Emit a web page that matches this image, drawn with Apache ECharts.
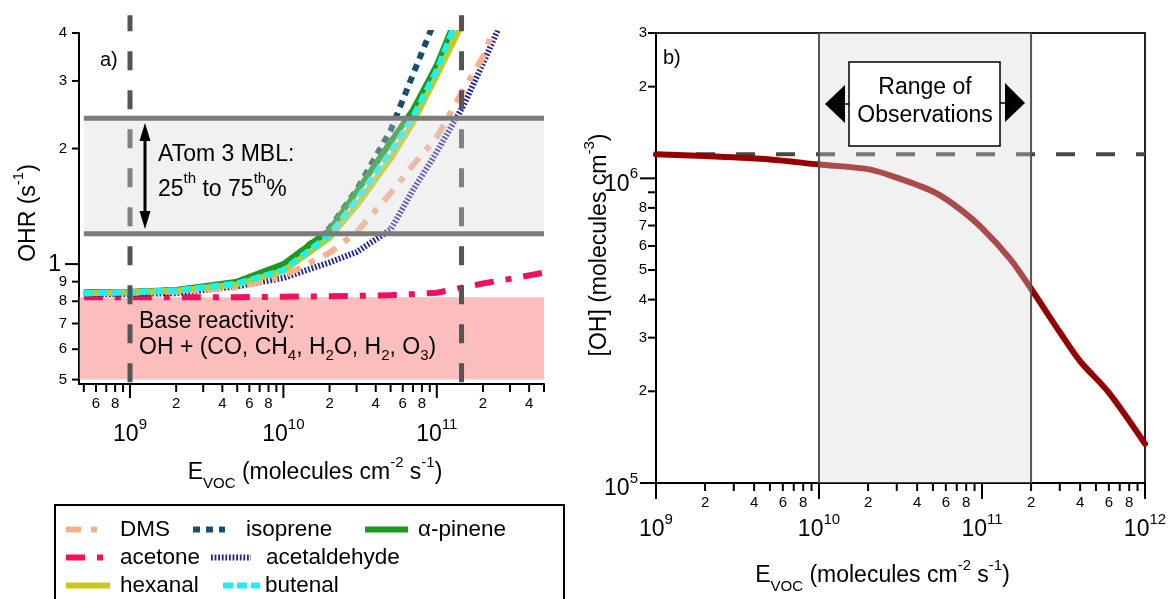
<!DOCTYPE html>
<html>
<head>
<meta charset="utf-8">
<title>OHR and OH versus E_VOC</title>
<script src="https://cdn.jsdelivr.net/npm/echarts@6.0.0/dist/echarts.min.js"></script>
<style>
html, body { margin: 0; padding: 0; background: #fff; }
#main { width: 1172px; height: 599px; }
</style>
</head>
<body>
<div id="main"></div>
<script type="text/javascript">
// ---- panel a: OH reactivity (s-1) against VOC flux ----
var evocA = [5e8, 1e9, 2e9, 5e9, 1e10, 2e10, 3e10, 5e10, 7e10, 1e11, 1.5e11, 2e11, 3e11, 5e11];
var ohrAcetone      = [0.82, 0.82, 0.82, 0.82, 0.822, 0.824, 0.826, 0.83, 0.835, 0.842, 0.87, 0.89, 0.915, 0.95];
var ohrAcetaldehyde = [0.835, 0.836, 0.84, 0.875, 0.92, 1.01, 1.075, 1.23, 1.56, 1.96, 2.6, 3.33, 4.8, null];
var ohrDMS          = [0.84, 0.842, 0.848, 0.87, 0.93, 1.07, 1.21, 1.53, 1.81, 2.14, 2.86, 3.46, 5.28, null];
var ohrIsoprene     = [0.84, 0.845, 0.855, 0.895, 0.99, 1.24, 1.56, 2.23, 3.12, 4.44, null, null, null, null];
var ohrAlphaPinene  = [0.845, 0.847, 0.856, 0.90, 1.0, 1.225, 1.54, 2.08, 2.52, 3.3, 4.89, null, null, null];
var ohrHexanal      = [0.84, 0.845, 0.852, 0.885, 0.96, 1.17, 1.42, 1.88, 2.34, 3.1, 4.31, null, null, null];
var ohrButenal      = [0.84, 0.845, 0.853, 0.89, 0.965, 1.19, 1.47, 1.96, 2.42, 3.2, 4.8, null, null, null];
var mblRange = [1.2, 2.4];          // ATom 3 MBL 25th-75th percentile
var baseReactivity = [0.5, 0.82];   // OH + (CO, CH4, H2O, H2, O3)
var fluxMarksA = [1e9, 1.45e11];

// ---- panel b: [OH] against VOC flux ----
var evocB = [1e9, 2e9, 5e9, 1e10, 2e10, 3e10, 5e10, 7e10, 1e11, 1.5e11, 2e11, 3e11, 4e11, 6e11, 1e12];
var ohConc = [1.2e6, 1.183e6, 1.153e6, 1.11e6, 1.072e6, 1.005e6, 9.05e5, 8.07e5, 6.87e5, 5.41e5, 4.34e5, 3.13e5, 2.51e5, 1.98e5, 1.345e5];
var ohNoVoc = 1.2e6;
var obsRange = [1e10, 2e11];

// ---- tick values ----
var tickAxMajor = [1e9, 1e10, 1e11];
var tickAxMinor = [5e8, 6e8, 7e8, 8e8, 9e8, 2e9, 3e9, 4e9, 5e9, 6e9, 7e9, 8e9, 9e9,
                   2e10, 3e10, 4e10, 5e10, 6e10, 7e10, 8e10, 9e10, 2e11, 3e11, 4e11, 5e11];
var tickAyMajor = [1];
var tickAyMinor = [0.5, 0.6, 0.7, 0.8, 0.9, 2, 3, 4];
var tickBxMajor = [1e9, 1e10, 1e11, 1e12];
var tickBxMinor = [2e9, 3e9, 4e9, 5e9, 6e9, 7e9, 8e9, 9e9, 2e10, 3e10, 4e10, 5e10, 6e10, 7e10, 8e10, 9e10,
                   2e11, 3e11, 4e11, 5e11, 6e11, 7e11, 8e11, 9e11];
var tickByMajor = [1e5, 1e6];
var tickByMinor = [2e5, 3e5, 4e5, 5e5, 6e5, 7e5, 8e5, 9e5, 2e6, 3e6];
var xLabelledMantissa = [2, 4, 6, 8];
var byUnlabelled = [9e5];

var FONT = '"Liberation Sans", Arial, sans-serif';
var supRich = {
    sup: { fontSize: 15, lineHeight: 15, verticalAlign: 'top', fontFamily: FONT, fill: '#000', color: '#000' },
    sub: { fontSize: 15, lineHeight: 15, verticalAlign: 'bottom', fontFamily: FONT, fill: '#000', color: '#000' }
};

function mant(v) {
    return Math.round(v / Math.pow(10, Math.floor(Math.log10(v) + 1e-9)));
}
function expo(v) {
    return Math.round(Math.log10(v));
}

var curveStyles = [
    { name: 'acetone', data: ohrAcetone, color: '#f2105e', width: 6, type: [19, 12, 6, 12] },
    { name: 'acetaldehyde', data: ohrAcetaldehyde, color: '#24249a', width: 6, type: [1.8, 1.8] },
    { name: 'DMS', data: ohrDMS, color: '#f5b18e', width: 6, type: [15, 10, 6, 10] },
    { name: 'isoprene', data: ohrIsoprene, color: '#17506e', width: 6, type: [7, 6] },
    { name: 'α-pinene', data: ohrAlphaPinene, color: '#1b9a1b', width: 6, type: 'solid' },
    { name: 'hexanal', data: ohrHexanal, color: '#c9c91c', width: 6, type: 'solid' },
    { name: 'butenal', data: ohrButenal, color: '#1ef0f0', width: 6, type: [10, 4] }
];

var series = [];

// filled rectangles [x0, y0, x1, y1]
function rectSeries(xi, yi, rects, fill, z) {
    return {
        type: 'custom', xAxisIndex: xi, yAxisIndex: yi, silent: true, z: z, clip: false,
        data: rects,
        renderItem: function (params, api) {
            var p0 = api.coord([api.value(0), api.value(1)]);
            var p1 = api.coord([api.value(2), api.value(3)]);
            return {
                type: 'rect',
                shape: { x: Math.min(p0[0], p1[0]), y: Math.min(p0[1], p1[1]),
                         width: Math.abs(p1[0] - p0[0]), height: Math.abs(p1[1] - p0[1]) },
                style: { fill: fill }
            };
        }
    };
}
// straight segments [x0, y0, x1, y1]
function segSeries(xi, yi, segs, stroke, width, dash, z) {
    return {
        type: 'custom', xAxisIndex: xi, yAxisIndex: yi, silent: true, z: z, clip: false,
        data: segs,
        renderItem: function (params, api) {
            var p0 = api.coord([api.value(0), api.value(1)]);
            var p1 = api.coord([api.value(2), api.value(3)]);
            return {
                type: 'line',
                shape: { x1: p0[0], y1: p0[1], x2: p1[0], y2: p1[1] },
                style: { stroke: stroke, lineWidth: width, lineDash: dash || null }
            };
        }
    };
}
// axis ticks: list of [value, label, isMajor]
function tickSeries(xi, yi, ticks, o) {
    return {
        type: 'custom', xAxisIndex: xi, yAxisIndex: yi, silent: true, z: 8, clip: false,
        data: ticks.map(function (t) { return o.dir === 'x' ? [t[0], o.base] : [o.base, t[0]]; }),
        renderItem: function (params, api) {
            var t = ticks[params.dataIndex];
            var p = api.coord([api.value(0), api.value(1)]);
            var len = t[2] ? o.majorLen : o.minorLen;
            var kids = [];
            if (o.dir === 'x') {
                kids.push({ type: 'line', shape: { x1: p[0], y1: p[1], x2: p[0], y2: p[1] + len },
                            style: { stroke: '#000', lineWidth: 2 } });
            } else {
                kids.push({ type: 'line', shape: { x1: p[0] - len, y1: p[1], x2: p[0], y2: p[1] },
                            style: { stroke: '#000', lineWidth: 2 } });
            }
            if (t[1]) {
                var st = { text: t[1], fill: '#000', fontFamily: FONT, fontSize: t[2] ? 23 : 15,
                           lineHeight: 36, rich: supRich, verticalAlign: 'middle' };
                if (o.dir === 'x') {
                    st.align = 'center';
                    st.x = p[0];
                    st.y = p[1] + (t[2] ? o.majorOff : o.minorOff);
                } else {
                    st.align = 'right';
                    st.x = p[0] - (t[2] ? o.majorOff : o.minorOff);
                    st.y = p[1] + (t[2] ? o.majorShift : 0);
                }
                kids.push({ type: 'text', style: st });
            }
            return { type: 'group', children: kids };
        }
    };
}

// ---- panel a layers ----
series.push(rectSeries(0, 0, [[4.7e8, baseReactivity[0], 5e11, baseReactivity[1]]], '#fcbdbd', 1));
curveStyles.forEach(function (c, k) {
    var pts = [];
    evocA.forEach(function (e, i) { if (c.data[i] != null) pts.push([e, c.data[i]]); });
    series.push({
        name: c.name, type: 'line', xAxisIndex: 0, yAxisIndex: 0, data: pts,
        symbol: 'none', z: 3 + k * 0.01, silent: true,
        lineStyle: { color: c.color, width: c.width, type: c.type, cap: 'butt', join: 'round' },
        itemStyle: { color: c.color }
    });
});
series.push(segSeries(0, 0, fluxMarksA.map(function (x) { return [x, 0.492, x, 4.45]; }),
    '#555', 5, [19, 20], 4));
series.push(rectSeries(0, 0, [[5e8, mblRange[0], 5e11, mblRange[1]]], 'rgba(215,215,215,0.34)', 5));
series.push(segSeries(0, 0, mblRange.map(function (y) { return [5e8, y, 5e11, y]; }), '#7b7b7b', 5, null, 6));

// ---- panel b layers ----
series.push(segSeries(1, 1, [[1e9, ohNoVoc, 1e12, ohNoVoc]], '#474747', 4, [19, 21], 2));
series.push({
    name: '[OH]', type: 'line', xAxisIndex: 1, yAxisIndex: 1, symbol: 'none', z: 3, silent: true,
    smooth: 0.3,
    data: evocB.map(function (e, i) { return [e, ohConc[i]]; }),
    lineStyle: { color: '#960000', width: 6, cap: 'round' }
});
series.push(rectSeries(1, 1, [[obsRange[0], 1e5, obsRange[1], 3e6]], 'rgba(215,215,215,0.34)', 5));
series.push(segSeries(1, 1, obsRange.map(function (x) { return [x, 1e5, x, 3e6]; }), '#555', 2, null, 6));

// ---- ticks ----
function buildTicks(major, minor, majorLabel, minorLabel) {
    var out = [];
    major.forEach(function (v) { out.push([v, majorLabel(v), true]); });
    minor.forEach(function (v) { out.push([v, minorLabel(v), false]); });
    return out;
}
var sci = function (v) { return '10{sup|' + expo(v) + '}'; };
var evenOnly = function (v) { return xLabelledMantissa.indexOf(mant(v)) >= 0 ? String(mant(v)) : ''; };

series.push(tickSeries(0, 0, buildTicks(tickAxMajor, tickAxMinor, sci, evenOnly),
    { dir: 'x', base: 0.487, majorLen: 14, minorLen: 8, majorOff: 51, minorOff: 20 }));
series.push(tickSeries(0, 0, buildTicks(tickAyMajor, tickAyMinor, function () { return '1'; },
    function (v) { return String(mant(v)); }),
    { dir: 'y', base: 4.65e8, majorLen: 14, minorLen: 7, majorOff: 18, minorOff: 12, majorShift: 1 }));
series.push(tickSeries(1, 1, buildTicks(tickBxMajor, tickBxMinor, sci, evenOnly),
    { dir: 'x', base: 1e5, majorLen: 16, minorLen: 8, majorOff: 47, minorOff: 20 }));
series.push(tickSeries(1, 1, buildTicks(tickByMajor, tickByMinor, sci,
    function (v) { return byUnlabelled.indexOf(v) >= 0 ? '' : String(mant(v)); }),
    { dir: 'y', base: 1e9, majorLen: 16, minorLen: 8, majorOff: 18, minorOff: 9, majorShift: 6 }));

// ---- legend, one small block per entry ----
var legendSlots = [
    ['DMS', 63, 525, 37, 12], ['isoprene', 190, 525, 32, 16], ['α-pinene', 362, 525, 43, 5],
    ['acetone', 63, 553, 37, 12], ['acetaldehyde', 208, 553, 40, 10],
    ['hexanal', 63, 581, 44, 5], ['butenal', 220, 581, 37, 0]
];
var legends = legendSlots.map(function (s) {
    var c = curveStyles.filter(function (x) { return x.name === s[0]; })[0];
    return {
        data: [s[0]], left: s[1], top: s[2] - 7, itemWidth: s[3], itemHeight: 14,
        padding: 0, itemGap: 0, selectedMode: false,
        itemStyle: { opacity: 0, borderWidth: 0 },
        lineStyle: { width: c.width },
        textStyle: { fontSize: 22.5, fontFamily: FONT, color: '#000', padding: [0, 0, 0, s[4]] }
    };
});

var axisLineStyle = { onZero: false, lineStyle: { color: '#000', width: 2 } };
var nameStyle = { fontSize: 23, fontFamily: FONT, color: '#000', lineHeight: 36, rich: supRich };

var option = {
    animation: false,
    backgroundColor: '#fff',
    grid: [
        { left: 79, top: 33, width: 465, height: 351 },
        { left: 656, top: 33, width: 489, height: 459, show: true, borderColor: '#222', borderWidth: 2 }
    ],
    xAxis: [
        { type: 'log', gridIndex: 0, min: 4.65e8, max: 5e11, axisLine: axisLineStyle,
          axisTick: { show: false }, axisLabel: { show: false }, splitLine: { show: false },
          name: 'E{sub|VOC} (molecules cm{sup|-2} s{sup|-1})', nameLocation: 'middle', nameGap: 71,
          nameTextStyle: Object.assign({ padding: [0, 0, 0, 7] }, nameStyle) },
        { type: 'log', gridIndex: 1, min: 1e9, max: 1e12, axisLine: axisLineStyle,
          axisTick: { show: false }, axisLabel: { show: false }, splitLine: { show: false },
          name: 'E{sub|VOC} (molecules cm{sup|-2} s{sup|-1})', nameLocation: 'middle', nameGap: 75,
          nameTextStyle: Object.assign({ padding: [0, 36, 0, 0] }, nameStyle) }
    ],
    yAxis: [
        { type: 'log', gridIndex: 0, min: 0.487, max: 4, axisLine: axisLineStyle,
          axisTick: { show: false }, axisLabel: { show: false }, splitLine: { show: false },
          name: 'OHR (s{sup|-1})', nameLocation: 'middle', nameGap: 32, nameRotate: 90,
          nameTextStyle: Object.assign({ padding: [0, 9, 0, 0] }, nameStyle) },
        { type: 'log', gridIndex: 1, min: 1e5, max: 3e6, axisLine: axisLineStyle,
          axisTick: { show: false }, axisLabel: { show: false }, splitLine: { show: false },
          name: '[OH] (molecules cm{sup|-3})', nameLocation: 'middle', nameGap: 38, nameRotate: 90,
          nameTextStyle: Object.assign({ padding: [0, 0, 0, 26] }, nameStyle) }
    ],
    legend: legends,
    graphic: [
        { type: 'rect', z: 50, shape: { x: 55, y: 505, width: 509, height: 100 },
          style: { fill: 'none', stroke: '#000', lineWidth: 2 } },
        { type: 'text', z: 50, x: 100, y: 60,
          style: { text: 'a)', fontSize: 20, fontFamily: FONT, fill: '#000', verticalAlign: 'middle', textVerticalAlign: 'middle' } },
        { type: 'text', z: 50, x: 158, y: 155,
          style: { text: 'ATom 3 MBL:', fontSize: 23, fontFamily: FONT, fill: '#000', verticalAlign: 'middle', textVerticalAlign: 'middle' } },
        { type: 'text', z: 50, x: 158, y: 190,
          style: { text: '25{sup|th} to 75{sup|th}%', fontSize: 23, lineHeight: 38, rich: supRich, fontFamily: FONT,
                   fill: '#000', verticalAlign: 'middle', textVerticalAlign: 'middle' } },
        { type: 'line', z: 50, shape: { x1: 145, y1: 136, x2: 145, y2: 216 }, style: { stroke: '#000', lineWidth: 3 } },
        { type: 'polygon', z: 50, shape: { points: [[145, 123], [139.5, 141], [150.5, 141]] }, style: { fill: '#000' } },
        { type: 'polygon', z: 50, shape: { points: [[145, 229], [139.5, 211], [150.5, 211]] }, style: { fill: '#000' } },
        { type: 'text', z: 50, x: 139, y: 322,
          style: { text: 'Base reactivity:', fontSize: 23, fontFamily: FONT, fill: '#000', verticalAlign: 'middle', textVerticalAlign: 'middle' } },
        { type: 'text', z: 50, x: 139, y: 348,
          style: { text: 'OH + (CO, CH{sub|4}, H{sub|2}O, H{sub|2}, O{sub|3})', fontSize: 23, lineHeight: 30, rich: supRich,
                   fontFamily: FONT, fill: '#000', verticalAlign: 'middle', textVerticalAlign: 'middle' } },
        { type: 'text', z: 50, x: 663, y: 58,
          style: { text: 'b)', fontSize: 20, fontFamily: FONT, fill: '#000', verticalAlign: 'middle', textVerticalAlign: 'middle' } },
        { type: 'rect', z: 50, shape: { x: 849, y: 62, width: 151, height: 84 },
          style: { fill: '#fff', stroke: '#000', lineWidth: 1.5 } },
        { type: 'text', z: 51, x: 925, y: 88,
          style: { text: 'Range of', fontSize: 23, fontFamily: FONT, fill: '#000', align: 'center', textAlign: 'center',
                   verticalAlign: 'middle', textVerticalAlign: 'middle' } },
        { type: 'text', z: 51, x: 925, y: 116,
          style: { text: 'Observations', fontSize: 23, fontFamily: FONT, fill: '#000', align: 'center', textAlign: 'center',
                   verticalAlign: 'middle', textVerticalAlign: 'middle' } },
        { type: 'polygon', z: 50, shape: { points: [[825, 104], [845, 85], [845, 123]] }, style: { fill: '#000' } },
        { type: 'line', z: 50, shape: { x1: 845, y1: 104, x2: 849, y2: 104 }, style: { stroke: '#000', lineWidth: 1.5 } },
        { type: 'polygon', z: 50, shape: { points: [[1025, 103], [1005, 83], [1005, 122]] }, style: { fill: '#000' } },
        { type: 'line', z: 50, shape: { x1: 1000, y1: 103, x2: 1005, y2: 103 }, style: { stroke: '#000', lineWidth: 1.5 } }
    ],
    series: series
};

var myChart = echarts.init(document.getElementById('main'));
myChart.setOption(option);
</script>
</body>
</html>
